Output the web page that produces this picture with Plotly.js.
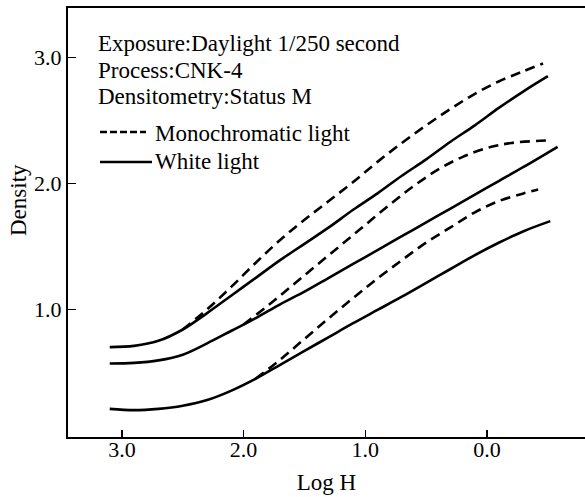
<!DOCTYPE html>
<html>
<head>
<meta charset="utf-8">
<script src="https://cdn.plot.ly/plotly-3.0.1.min.js"></script>
<style>html,body{margin:0;padding:0;background:#fff;}#chart{width:585px;height:497px;}</style>
</head>
<body>
<div id="chart"></div>
<script>
// White light curves (solid)
const whiteTopX = [3.1, 2.9, 2.7, 2.5, 2.3, 2.1, 1.9, 1.7, 1.5, 1.3, 1.1, 0.9, 0.7, 0.5, 0.3, 0.1, -0.1, -0.3, -0.5];
const whiteTopY = [0.70, 0.71, 0.75, 0.84, 0.97, 1.11, 1.25, 1.39, 1.52, 1.65, 1.79, 1.92, 2.06, 2.19, 2.33, 2.46, 2.60, 2.73, 2.85];
const whiteMidX = [3.1, 2.9, 2.7, 2.5, 2.3, 2.1, 1.9, 1.7, 1.5, 1.3, 1.1, 0.9, 0.7, 0.5, 0.3, 0.1, -0.1, -0.3, -0.58];
const whiteMidY = [0.57, 0.575, 0.595, 0.64, 0.73, 0.83, 0.93, 1.04, 1.14, 1.25, 1.36, 1.47, 1.58, 1.69, 1.80, 1.91, 2.02, 2.13, 2.29];
const whiteLowX = [3.1, 2.9, 2.7, 2.5, 2.3, 2.1, 1.9, 1.7, 1.5, 1.3, 1.1, 0.9, 0.7, 0.5, 0.3, 0.1, -0.1, -0.3, -0.52];
const whiteLowY = [0.21, 0.20, 0.21, 0.235, 0.28, 0.355, 0.45, 0.56, 0.67, 0.78, 0.89, 0.995, 1.10, 1.21, 1.32, 1.43, 1.53, 1.62, 1.70];
// Monochromatic light curves (dashed)
const monoTopX = [2.5, 2.3, 2.1, 1.9, 1.7, 1.5, 1.3, 1.1, 0.9, 0.7, 0.5, 0.3, 0.1, -0.1, -0.3, -0.46];
const monoTopY = [0.84, 1.00, 1.18, 1.37, 1.55, 1.71, 1.86, 2.01, 2.17, 2.32, 2.46, 2.59, 2.71, 2.81, 2.89, 2.95];
const monoMidX = [2.0, 1.8, 1.6, 1.4, 1.2, 1.0, 0.8, 0.6, 0.4, 0.2, 0.0, -0.2, -0.5];
const monoMidY = [0.88, 1.03, 1.19, 1.35, 1.51, 1.67, 1.83, 1.98, 2.11, 2.21, 2.28, 2.32, 2.34];
const monoLowX = [1.9, 1.7, 1.5, 1.3, 1.1, 0.9, 0.7, 0.5, 0.3, 0.1, -0.1, -0.3, -0.42];
const monoLowY = [0.45, 0.60, 0.765, 0.93, 1.09, 1.245, 1.39, 1.53, 1.65, 1.77, 1.86, 1.92, 1.95];

const xTicks = [3.0, 2.0, 1.0, 0.0];
const xTickText = ['3.0', '2.0', '1.0', '0.0'];
const yTicks = [1.0, 2.0, 3.0];
const yTickText = ['1.0', '2.0', '3.0'];
const infoLines = ['Exposure:Daylight 1/250 second', 'Process:CNK-4', 'Densitometry:Status M'];
const legendNames = ['Monochromatic light', 'White light'];

const FONT = '"Liberation Serif", "Times New Roman", "DejaVu Serif", serif';
const LW = 2.6;

function solid(x, y) {
  return {x: x, y: y, mode: 'lines', type: 'scatter', showlegend: false,
    line: {color: '#000', width: LW, shape: 'spline', smoothing: 1}, hoverinfo: 'skip'};
}
function dashed(x, y) {
  return {x: x, y: y, mode: 'lines', type: 'scatter', showlegend: false,
    line: {color: '#000', width: LW, dash: '10px,6px', shape: 'spline', smoothing: 1}, hoverinfo: 'skip'};
}

const data = [
  solid(whiteTopX, whiteTopY), solid(whiteMidX, whiteMidY), solid(whiteLowX, whiteLowY),
  dashed(monoTopX, monoTopY), dashed(monoMidX, monoMidY), dashed(monoLowX, monoLowY)
];

// pixel helpers for paper coords (plot area: x 68..585, y 8..437)
const L = 68, R = 585, T = 8, B = 437;
const px = X => (X - L) / (R - L);
const py = Y => (B - Y) / (B - T);

const infoY = [43, 70, 97];
const annotations = infoLines.map((t, i) => ({
  text: t, xref: 'paper', yref: 'paper', x: px(96), y: py(infoY[i]),
  xanchor: 'left', yanchor: 'middle', showarrow: false,
  font: {family: FONT, size: 23, color: '#000'}
}));
annotations.push({text: legendNames[0], xref: 'paper', yref: 'paper', x: px(153), y: py(133),
  xanchor: 'left', yanchor: 'middle', showarrow: false, font: {family: FONT, size: 23, color: '#000'}});
annotations.push({text: legendNames[1], xref: 'paper', yref: 'paper', x: px(153), y: py(162),
  xanchor: 'left', yanchor: 'middle', showarrow: false, font: {family: FONT, size: 23, color: '#000'}});
annotations.push({text: 'Density', xref: 'paper', yref: 'paper', x: px(18), y: py(200),
  xanchor: 'center', yanchor: 'middle', textangle: -90, showarrow: false,
  font: {family: FONT, size: 23, color: '#000'}});

const shapes = [
  {type: 'line', xref: 'paper', yref: 'paper', x0: px(100), x1: px(146), y0: py(132), y1: py(132),
   line: {color: '#000', width: LW, dash: '7px,3px'}},
  {type: 'line', xref: 'paper', yref: 'paper', x0: px(100), x1: px(152), y0: py(162), y1: py(162),
   line: {color: '#000', width: LW}}
];

const layout = {
  width: 585, height: 497,
  margin: {l: L, r: 585 - R, t: T, b: 497 - B, pad: 0},
  paper_bgcolor: '#fff', plot_bgcolor: '#fff',
  font: {family: FONT, size: 22, color: '#000'},
  showlegend: false,
  xaxis: {
    range: [3.443, -0.805], tickvals: xTicks, ticktext: xTickText,
    ticks: 'inside', ticklen: 7, tickwidth: 1.5, tickcolor: '#000',
    ticklabelstandoff: -8,
    showline: true, linecolor: '#000', linewidth: 2, mirror: true,
    showgrid: false, zeroline: false,
    tickfont: {family: FONT, size: 22, color: '#000'},
    title: {text: 'Log H', font: {family: FONT, size: 23, color: '#000'}, standoff: 12}
  },
  yaxis: {
    range: [-0.013, 3.391], tickvals: yTicks, ticktext: yTickText,
    ticks: 'inside', ticklen: 8, tickwidth: 1.5, tickcolor: '#000',
    showline: true, linecolor: '#000', linewidth: 2, mirror: false,
    showgrid: false, zeroline: false,
    tickfont: {family: FONT, size: 22, color: '#000'}
  },
  annotations: annotations,
  shapes: shapes
};

Plotly.newPlot('chart', data, layout, {staticPlot: true, displayModeBar: false});
</script>
</body>
</html>
